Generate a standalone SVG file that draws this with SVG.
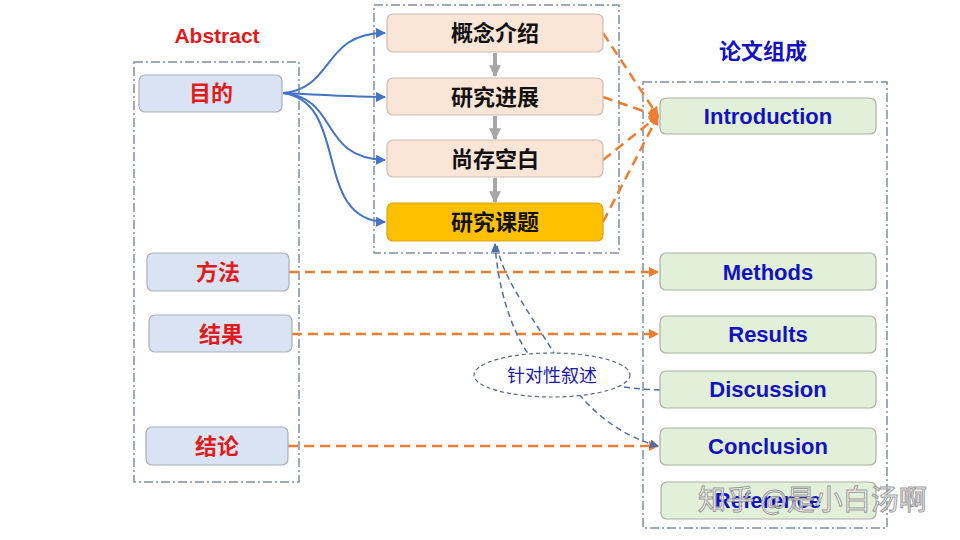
<svg xmlns="http://www.w3.org/2000/svg" width="960" height="540" viewBox="0 0 960 540">
<defs>
<style>
.cont{fill:none;stroke:#7F8FA6;stroke-width:1.5;stroke-dasharray:9 3 2 3}
.lbox{fill:#DAE3F3;stroke:#A9AFB8;stroke-width:1.2}
.mbox{fill:#FBE5D6;stroke:#C9BDB4;stroke-width:1.2}
.ybox{fill:#FFC000;stroke:#D9A21A;stroke-width:1.2}
.rbox{fill:#E2F0D9;stroke:#A9B0A4;stroke-width:1.2}
.red{font-family:"Liberation Sans","Noto Sans CJK SC",sans-serif;font-weight:bold;fill:#E01B1B;text-anchor:middle}
.blk{font-family:"Liberation Sans","Noto Sans CJK SC",sans-serif;font-weight:bold;fill:#111;font-size:22px;text-anchor:middle}
.blu{font-family:"Liberation Sans","Noto Sans CJK SC",sans-serif;font-weight:bold;fill:#1212C0;font-size:22px;text-anchor:middle}
.or{fill:none;stroke:#ED7D31;stroke-width:2.5;stroke-dasharray:10 6}
.bl{fill:none;stroke:#4472C4;stroke-width:2}
.bd{fill:none;stroke:#4A6FA5;stroke-width:1.5;stroke-dasharray:6 4}
.gr{fill:none;stroke:#A6A6A6;stroke-width:4}
</style>
<marker id="ao" viewBox="0 0 10 10" refX="9" refY="5" markerWidth="4" markerHeight="4" orient="auto" markerUnits="strokeWidth"><path d="M0,0L10,5L0,10z" fill="#ED7D31"/></marker>
<marker id="ab" viewBox="0 0 10 10" refX="9" refY="5" markerWidth="5" markerHeight="5" orient="auto" markerUnits="strokeWidth"><path d="M0,0L10,5L0,10z" fill="#4472C4"/></marker>
<marker id="ad" viewBox="0 0 10 10" refX="9" refY="5" markerWidth="6" markerHeight="6" orient="auto" markerUnits="strokeWidth"><path d="M0,0L10,5L0,10z" fill="#4A6FA5"/></marker>
<marker id="ag" viewBox="0 0 10 10" refX="9" refY="5" markerWidth="3" markerHeight="3" orient="auto" markerUnits="strokeWidth"><path d="M0,0L10,5L0,10z" fill="#A6A6A6"/></marker>
</defs>
<rect width="960" height="540" fill="#fff"/>

<g id="containers">
<rect class="cont" x="134" y="62" width="165" height="420"/>
<rect class="cont" x="374" y="5" width="245" height="248"/>
<rect class="cont" x="643" y="82" width="244" height="446"/>
</g>

<g id="titles">
<text class="red" x="217" y="43" font-size="21">Abstract</text>
<text class="blu" x="763" y="59" font-size="22">论文组成</text>
</g>

<g id="connectors">
<path class="bl" d="M283,93 C335,88 322,33 385,33" marker-end="url(#ab)"/>
<path class="bl" d="M283,93 C320,95 350,97 385,97" marker-end="url(#ab)"/>
<path class="bl" d="M283,93 C340,98 318,158 385,160" marker-end="url(#ab)"/>
<path class="bl" d="M283,93 C350,102 312,220 385,222" marker-end="url(#ab)"/>
<path class="gr" d="M495,53 L495,76" marker-end="url(#ag)"/>
<path class="gr" d="M495,116 L495,139" marker-end="url(#ag)"/>
<path class="gr" d="M495,178 L495,202" marker-end="url(#ag)"/>
<path class="or" d="M603,33 L658,116" marker-end="url(#ao)"/>
<path class="or" d="M603,97 L658,116" marker-end="url(#ao)"/>
<path class="or" d="M603,160 L658,116" marker-end="url(#ao)"/>
<path class="or" d="M603,222 L658,116" marker-end="url(#ao)"/>
<path class="or" d="M289,272 L658,272" marker-end="url(#ao)"/>
<path class="or" d="M292,334 L658,334" marker-end="url(#ao)"/>
<path class="or" d="M288,446 L658,446" marker-end="url(#ao)"/>
<path class="bd" d="M660,390 C600,388 545,372 527,352 C512,330 498,290 495,244" marker-end="url(#ad)"/>
<path class="bd" d="M497,246 C503,280 535,320 555,355 C568,385 600,430 658,446" marker-end="url(#ad)"/>
</g>

<g id="n-mudi"><rect class="lbox" x="139" y="75" width="143" height="37" rx="6"/><text class="red" x="211" y="101" font-size="22">目的</text></g>
<g id="n-fangfa"><rect class="lbox" x="147" y="253" width="142" height="38" rx="6"/><text class="red" x="218" y="280" font-size="22">方法</text></g>
<g id="n-jieguo"><rect class="lbox" x="149" y="315" width="143" height="37" rx="6"/><text class="red" x="221" y="342" font-size="22">结果</text></g>
<g id="n-jielun"><rect class="lbox" x="146" y="427" width="142" height="38" rx="6"/><text class="red" x="217" y="454" font-size="22">结论</text></g>

<g id="n-gainian"><rect class="mbox" x="387" y="14" width="216" height="38" rx="6"/><text class="blk" x="495" y="41">概念介绍</text></g>
<g id="n-jinzhan"><rect class="mbox" x="387" y="78" width="216" height="37" rx="6"/><text class="blk" x="495" y="105">研究进展</text></g>
<g id="n-kongbai"><rect class="mbox" x="387" y="140" width="216" height="37" rx="6"/><text class="blk" x="495" y="167">尚存空白</text></g>
<g id="n-keti"><rect class="ybox" x="387" y="203" width="216" height="38" rx="6"/><text class="blk" x="495" y="230">研究课题</text></g>

<g id="n-intro"><rect class="rbox" x="660" y="98" width="216" height="36" rx="6"/><text class="blu" x="768" y="124">Introduction</text></g>
<g id="n-methods"><rect class="rbox" x="660" y="253" width="216" height="37" rx="6"/><text class="blu" x="768" y="280">Methods</text></g>
<g id="n-results"><rect class="rbox" x="660" y="316" width="216" height="37" rx="6"/><text class="blu" x="768" y="342">Results</text></g>
<g id="n-discussion"><rect class="rbox" x="660" y="371" width="216" height="37" rx="6"/><text class="blu" x="768" y="397">Discussion</text></g>
<g id="n-conclusion"><rect class="rbox" x="660" y="428" width="216" height="37" rx="6"/><text class="blu" x="768" y="454">Conclusion</text></g>
<g id="n-reference"><rect class="rbox" x="661" y="482" width="215" height="37" rx="6"/><text class="blu" x="768" y="508">Reference</text></g>

<g id="n-zhendui">
<ellipse cx="552" cy="375" rx="78" ry="22" fill="#fff" stroke="#5A6A80" stroke-width="1.2" stroke-dasharray="4 3"/>
<text x="552" y="382" font-family="'Noto Sans CJK SC',sans-serif" font-size="18" fill="#1A1AA8" text-anchor="middle">针对性叙述</text>
</g>

<g id="watermark">
<text x="698" y="510" font-family="'Noto Sans CJK SC',sans-serif" font-size="28" fill="#fff" fill-opacity="0.75" stroke="#9A9A9A" stroke-width="1">知乎 @是小白汤啊</text>
</g>
</svg>
